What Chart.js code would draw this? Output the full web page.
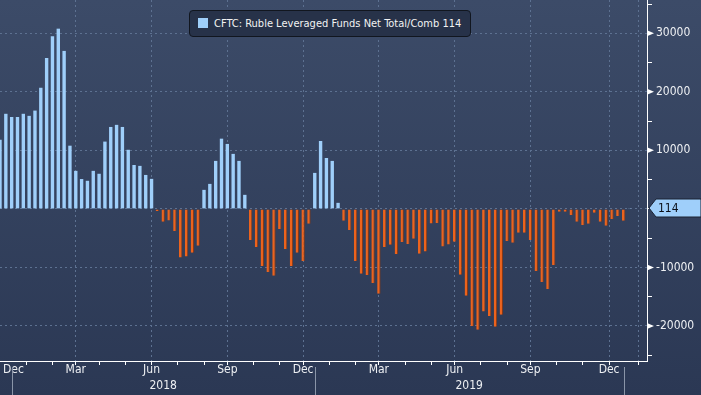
<!DOCTYPE html>
<html>
<head>
<meta charset="utf-8">
<script src="https://cdn.jsdelivr.net/npm/chart.js@4.4.1/dist/chart.umd.min.js"></script>
<style>
    html, body { margin: 0; padding: 0; background: #2c3956; }
    #wrap { position: relative; width: 701px; height: 395px; }
    #legend {
        position: absolute; left: 189px; top: 10px; height: 27px;
        padding: 0 9px 0 8px; box-sizing: border-box;
        background: #273249; border: 1px solid #11161f; border-radius: 4px;
        color: #f2f2f2; font: 11px "DejaVu Sans Condensed", "DejaVu Sans", sans-serif;
        line-height: 25px; white-space: nowrap;
    }
    #legend .swatch {
        display: inline-block; width: 10px; height: 10px; background: #9fcffa;
        margin-right: 6px; vertical-align: -1px;
    }
</style>
</head>
<body>
<div id="wrap">
    <canvas id="chart" width="701" height="395"></canvas>
    <div id="legend"><span class="swatch"></span><span id="legendText"></span></div>
</div>
<script>
// weekly CFTC net positions, first report Tue 19 Dec 2017
var firstReport = [2017, 11, 19];
var netPositions = [
    11800, 16250, 15700, 15700, 16250, 15900, 16800, 20700, 25800, 29500,
    30800, 27000, 10800, 6500, 5100, 4800, 6500, 6000, 11500, 14000,
    14360, 14000, 10100, 7500, 7350, 5800, 5130, -350, -2200, -2000,
    -3760, -8300, -8150, -7500, -6300, 3250, 4270, 8200, 12000, 11100,
    9400, 8200, 2400, -5300, -6500, -9750, -10770, -11450, -3420, -6840,
    -9750, -7500, -8900, -2560, 6150, 11600, 8700, 8200, 1030, -2050,
    -3600, -8900, -11100, -11300, -12650, -14500, -6500, -6150, -7700, -5640,
    -5990, -5100, -7650, -7300, -2500, -2400, -6450, -6100, -5600, -11250,
    -14850, -20000, -20650, -17550, -18300, -20150, -18100, -5470, -5810, -4100,
    -4100, -5300, -10600, -12500, -13680, -9580, -510, -510, -1030, -2220,
    -2740, -2560, -680, -2220, -2900, -1710, -1200, -2050, 114
];
var seriesName = 'CFTC: Ruble Leveraged Funds Net Total/Comb';
var lastValue = 114;

var yTicks = [35000, 30000, 25000, 20000, 15000, 10000, 5000, 0, -5000, -10000, -15000, -20000, -25000];
var yLabels = [30000, 20000, 10000, -10000, -20000];
var monthNames = ['Jan', 'Feb', 'Mar', 'Apr', 'May', 'Jun', 'Jul', 'Aug', 'Sep', 'Oct', 'Nov', 'Dec'];
var labeledMonths = ['Dec', 'Mar', 'Jun', 'Sep'];

var upColor = '#9fcffa';
var downColor = '#ec631d';
var gridColor = '#5d7191';
var axisFont = '12px "DejaVu Sans Condensed", "DejaVu Sans", sans-serif';

// report dates (weekly)
var start = Date.UTC(firstReport[0], firstReport[1], firstReport[2]);
var reportDates = netPositions.map(function (v, i) { return start + i * 7 * 86400000; });

// index of the first report in each month
var monthStarts = [];
(function () {
    var y = firstReport[0], m = firstReport[1];
    while (true) {
        var d = Date.UTC(y, m, 1);
        var idx = reportDates.findIndex(function (t) { return t >= d; });
        if (idx < 0) break;
        monthStarts.push({ year: y, month: m, index: idx });
        m++;
        if (m > 11) { m = 0; y++; }
    }
})();
var monthTicks = monthStarts.filter(function (s) { return s.index > 0; });

document.getElementById('legendText').textContent = seriesName + '  ' + lastValue;

var points = netPositions.map(function (v, i) { return { x: i, y: v }; });

var overlay = {
    id: 'overlay',
    beforeDraw: function (chart) {
        var ctx = chart.ctx;
        var g = ctx.createLinearGradient(0, 0, 0, chart.height);
        g.addColorStop(0, '#3c4b68');
        g.addColorStop(1, '#2b3854');
        ctx.save();
        ctx.fillStyle = g;
        ctx.fillRect(0, 0, chart.width, chart.height);
        ctx.restore();
    },
    afterDraw: function (chart) {
        var ctx = chart.ctx;
        var xs = chart.scales.x, ys = chart.scales.y;
        var area = chart.chartArea;
        ctx.save();

        // month labels in the middle of their month
        ctx.font = axisFont;
        ctx.fillStyle = '#eef0f3';
        ctx.textBaseline = 'middle';
        ctx.textAlign = 'center';
        monthStarts.forEach(function (s, k) {
            var name = monthNames[s.month];
            if (labeledMonths.indexOf(name) < 0) return;
            var next = monthStarts[k + 1];
            var endIdx = next ? next.index : netPositions.length;
            var cx = (xs.getPixelForValue(s.index) + xs.getPixelForValue(endIdx)) / 2;
            var w = ctx.measureText(name).width;
            cx = Math.max(cx, w / 2 + 3);
            ctx.fillText(name, cx, area.bottom + 9);
        });

        // year row
        var yearStarts = monthTicks.filter(function (s) { return s.month === 0; });
        ctx.strokeStyle = '#8a95a8';
        ctx.lineWidth = 1;
        yearStarts.forEach(function (s, k) {
            var px = Math.round(xs.getPixelForValue(s.index)) + 0.5;
            ctx.beginPath();
            ctx.moveTo(px, area.bottom + 6);
            ctx.lineTo(px, chart.height);
            ctx.stroke();
            var next = yearStarts[k + 1];
            if (next) {
                var cx = (xs.getPixelForValue(s.index) + xs.getPixelForValue(next.index)) / 2;
                ctx.fillText(String(s.year), cx, area.bottom + 25);
            }
        });

        // arrows at labelled y ticks
        ctx.fillStyle = '#ffffff';
        yLabels.forEach(function (v) {
            var py = ys.getPixelForValue(v);
            ctx.beginPath();
            ctx.moveTo(area.right, py - 3);
            ctx.lineTo(area.right + 7, py);
            ctx.lineTo(area.right, py + 3);
            ctx.closePath();
            ctx.fill();
        });

        // last value tag
        var ty = Math.round(ys.getPixelForValue(lastValue));
        var tx = area.right + 2;
        ctx.beginPath();
        ctx.moveTo(tx, ty);
        ctx.lineTo(tx + 7, ty - 9);
        ctx.lineTo(chart.width, ty - 9);
        ctx.lineTo(chart.width, ty + 9);
        ctx.lineTo(tx + 7, ty + 9);
        ctx.closePath();
        ctx.fillStyle = upColor;
        ctx.fill();
        ctx.strokeStyle = '#1a2233';
        ctx.stroke();
        ctx.fillStyle = '#0b0f18';
        ctx.textAlign = 'left';
        ctx.fillText(String(lastValue), tx + 9, ty + 1);

        ctx.restore();
    }
};

function quarterGrid(c) {
    if (!c.tick) return gridColor;
    var s = monthTicks.find(function (m) { return m.index === c.tick.value; });
    return s && s.month % 3 === 0 ? gridColor : 'transparent';
}

function valueGrid(c) {
    if (!c.tick) return gridColor;
    return c.tick.value % 10000 === 0 ? gridColor : 'transparent';
}

var ctx = document.getElementById('chart').getContext('2d');
var chart = new Chart(ctx, {
    type: 'bar',
    data: {
        datasets: [{
            label: seriesName,
            data: points,
            backgroundColor: function (c) { return c.raw && c.raw.y < 0 ? downColor : upColor; },
            borderColor: '#8a3914',
            borderWidth: function (c) { return c.raw && c.raw.y < 0 ? { right: 1 } : 0; },
            categoryPercentage: 1,
            barPercentage: 0.58
        }]
    },
    options: {
        responsive: false,
        animation: false,
        devicePixelRatio: 1,
        layout: { padding: 0 },
        plugins: {
            legend: { display: false },
            tooltip: { enabled: false }
        },
        scales: {
            x: {
                type: 'linear',
                offset: false,
                min: 0,
                max: 111,
                afterBuildTicks: function (scale) {
                    scale.ticks = monthTicks.map(function (s) { return { value: s.index }; });
                },
                afterFit: function (scale) {
                    scale.height = 34;
                    scale.paddingLeft = 0;
                    scale.paddingRight = 0;
                },
                ticks: { display: false },
                grid: {
                    color: quarterGrid,
                    tickColor: '#ffffff',
                    tickLength: 4,
                    lineWidth: 1
                },
                border: { display: true, color: '#ffffff', width: 1, dash: [2, 3] }
            },
            y: {
                position: 'right',
                min: -26000,
                max: 35700,
                afterBuildTicks: function (scale) {
                    scale.ticks = yTicks.map(function (v) { return { value: v }; });
                },
                afterFit: function (scale) {
                    scale.width = 54;
                    scale.paddingTop = 0;
                    scale.paddingBottom = 0;
                },
                ticks: {
                    color: '#eef0f3',
                    font: { family: '"DejaVu Sans Condensed", "DejaVu Sans", sans-serif', size: 12 },
                    padding: 4,
                    callback: function (v) { return yLabels.indexOf(v) >= 0 ? String(v) : ''; }
                },
                grid: {
                    color: valueGrid,
                    tickColor: '#ffffff',
                    tickLength: 5,
                    lineWidth: 1
                },
                border: { display: true, color: '#ffffff', width: 1, dash: [2, 3] }
            }
        }
    },
    plugins: [overlay]
});
</script>
</body>
</html>
